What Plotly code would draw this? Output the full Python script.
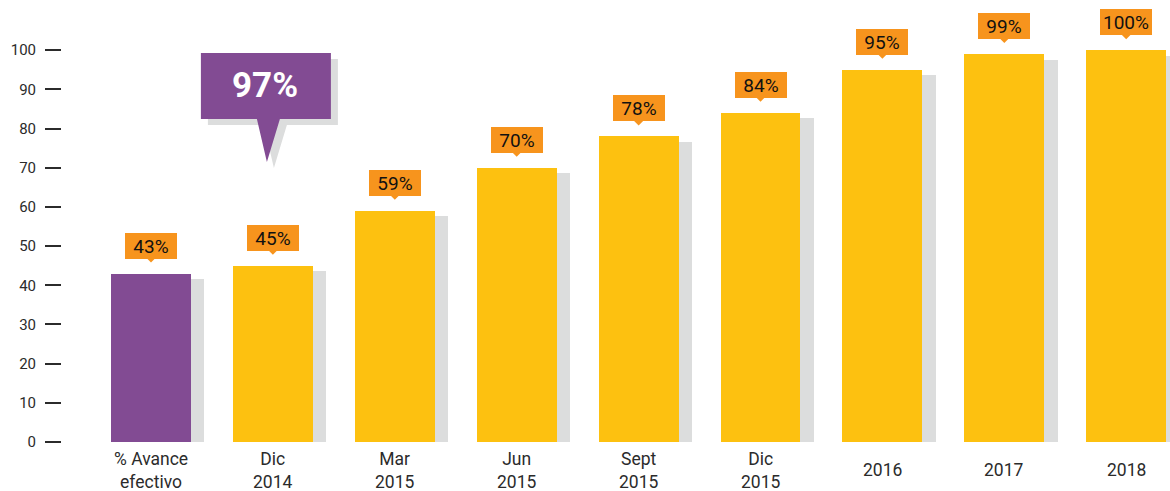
import plotly.graph_objects as go

categories = ["% Avance<br>efectivo", "Dic<br>2014", "Mar<br>2015", "Jun<br>2015", "Sept<br>2015",
              "Dic<br>2015", "2016", "2017", "2018"]
values = [43, 45, 59, 70, 78, 84, 95, 99, 100]
value_labels = ["43%", "45%", "59%", "70%", "78%", "84%", "95%", "99%", "100%"]
callout_label = "97%"
y_ticks = [0, 10, 20, 30, 40, 50, 60, 70, 80, 90, 100]

PURPLE = "#824B93"
YELLOW = "#FDC110"
GREY = "#DCDDDD"
ORANGE = "#F7941D"
TEXT = "#2B2B2B"
FONT = "Roboto"

xs = list(range(len(categories)))
bar_w = 0.656
shadow_dx = 0.11
shadow_dy = 1.4
colors = [PURPLE] + [YELLOW] * (len(values) - 1)

fig = go.Figure()
fig.add_trace(go.Bar(x=[x + shadow_dx for x in xs], y=[v - shadow_dy for v in values],
                     width=bar_w, marker=dict(color=GREY, line=dict(width=0)),
                     hoverinfo="skip", showlegend=False))
fig.add_trace(go.Bar(x=xs, y=values, width=bar_w,
                     marker=dict(color=colors, line=dict(width=0)), showlegend=False))

shapes = []
annotations = []
for x, v, lab, cat in zip(xs, values, value_labels, categories):
    annotations.append(dict(x=x, y=v, xref="x", yref="y", text=lab, showarrow=False,
                            yanchor="bottom", yshift=15, width=50, height=24,
                            bgcolor=ORANGE, borderpad=1, borderwidth=0,
                            font=dict(family=FONT, size=19, color="#111111")))
    shapes.append(dict(type="path", xref="x", yref="y", xsizemode="pixel", ysizemode="pixel",
                       xanchor=x, yanchor=v, path="M -5,16 L 5,16 L 0,11 Z",
                       fillcolor=ORANGE, line=dict(width=0)))
    annotations.append(dict(x=x, y=0, xref="x", yref="y", text=cat, showarrow=False,
                            yanchor="middle", yshift=-28, align="center", borderpad=0,
                            font=dict(family=FONT, size=17.5, color=TEXT)))

# big callout anchored to the "Dic 2014" bar base
box = "M -72,389 L 58,389 L 58,323 L 7,323 L -6,280 L -16,323 L -72,323 Z"
shadow_box = "M -65,383 L 65,383 L 65,317 L 14,317 L 1,274 L -9,317 L -65,317 Z"
shapes.append(dict(type="path", xref="x", yref="y", xsizemode="pixel", ysizemode="pixel",
                   xanchor=1, yanchor=0, path=shadow_box, fillcolor=GREY, line=dict(width=0),
                   layer="above"))
shapes.append(dict(type="path", xref="x", yref="y", xsizemode="pixel", ysizemode="pixel",
                   xanchor=1, yanchor=0, path=box, fillcolor=PURPLE, line=dict(width=0),
                   layer="above"))
annotations.append(dict(x=1, y=0, xref="x", yref="y", text="<b>" + callout_label + "</b>",
                        showarrow=False, xshift=-8, yshift=357, yanchor="middle",
                        font=dict(family=FONT, size=35, color="white")))

fig.update_layout(
    width=1170, height=491,
    margin=dict(l=62, r=0, t=11, b=49),
    paper_bgcolor="white", plot_bgcolor="white",
    barmode="overlay", bargap=0,
    shapes=shapes, annotations=annotations,
    xaxis=dict(range=[(62 - 151) / 121.9, (1170 - 151) / 121.9], showticklabels=False,
               showgrid=False, zeroline=False, showline=False, ticks=""),
    yaxis=dict(range=[0, 110], tickvals=y_ticks, ticks="outside", ticklen=16, tickwidth=1.5,
               tickcolor=TEXT, showgrid=False, zeroline=False, showline=False,
               ticklabelstandoff=6,
               tickfont=dict(family=FONT, size=15, color=TEXT)),
)

fig.write_html("out.html", config={"displayModeBar": False},
               post_script="document.body.style.margin='0';document.body.style.overflow='hidden';")
